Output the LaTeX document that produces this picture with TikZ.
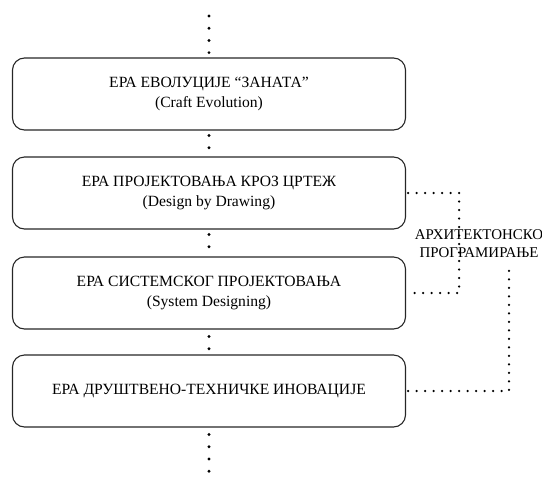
\documentclass[tikz,border=0pt]{standalone}
\usepackage{fontspec}
\setmainfont{Liberation Serif}
\begin{document}
\begin{tikzpicture}[x=1pt,y=-1pt,
  era/.style={draw=black!85, line width=1.1pt, rounded corners=12pt,
    minimum width=393pt, minimum height=72pt, align=center, inner sep=0pt,
    font=\fontsize{15.6}{20}\selectfont},
  bigdots/.style={draw=black, line width=3.2pt, line cap=round, dash pattern=on 0pt off 12.2pt},
  smalldots/.style={draw=black, line width=2.5pt, line cap=round, dash pattern=on 0pt off 8.5pt},
  lbl/.style={align=center, inner sep=0pt, font=\fontsize{14.9}{18}\selectfont}
]
\useasboundingbox (0,0) rectangle (542,480);
\node[era] (b1) at (209,94) {ЕРА ЕВОЛУЦИЈЕ “ЗАНАТА”\\(Craft Evolution)};
\node[era] (b2) at (209,193) {ЕРА ПРОЈЕКТОВАЊА КРОЗ ЦРТЕЖ\\(Design by Drawing)};
\node[era] (b3) at (209,293) {ЕРА СИСТЕМСКОГ ПРОЈЕКТОВАЊА\\(System Designing)};
\node[era] (b4) at (209,391) {ЕРА ДРУШТВЕНО-ТЕХНИЧКЕ ИНОВАЦИЈЕ};
\node[lbl] (arch) at (479,244) {АРХИТЕКТОНСКО\\ПРОГРАМИРАЊЕ};
\coordinate (top) at (209,16);
\coordinate (bot) at (209,486);
\coordinate (c4) at (509,265);
\draw[bigdots] (top) -- (b1.north);
\draw[bigdots] ([yshift=-5pt]b1.south) -- (b2.north);
\draw[bigdots] ([yshift=-5pt]b2.south) -- (b3.north);
\draw[bigdots] ([yshift=-7pt]b3.south) -- (b4.north);
\draw[bigdots] ([yshift=-7pt]b4.south) -- (bot);
\draw[smalldots] ([xshift=2pt]b2.east) -- ++(51,0) |- ([xshift=2pt]b3.east);
\draw[smalldots] ([xshift=2pt]b4.east) -| (c4);
\end{tikzpicture}
\end{document}
